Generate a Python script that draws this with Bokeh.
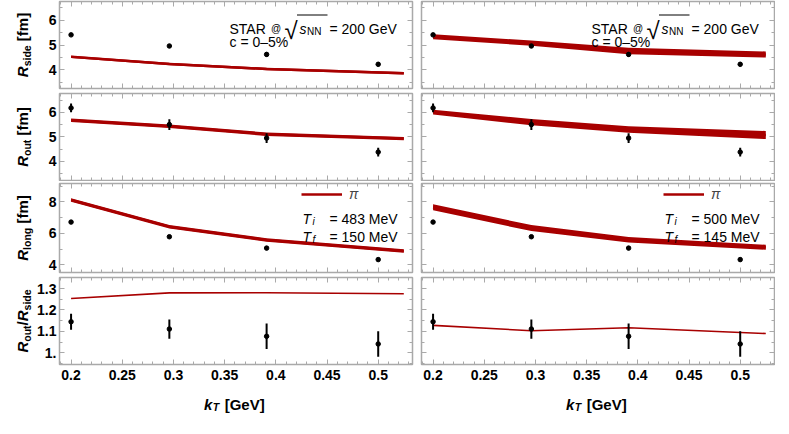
import numpy as np
from bokeh.plotting import figure
from bokeh.models import (Range1d, LinearAxis, FixedTicker, Label, Legend, LegendItem,
                          CustomJSTickFormatter)
from bokeh.layouts import gridplot, row, column
from bokeh.embed import file_html
from bokeh.resources import INLINE

# ---------------- data ----------------
kt_data = [0.2, 0.296, 0.391, 0.5]
rside_data = [5.41, 4.96, 4.62, 4.22]
rside_err = [0.04, 0.04, 0.10, 0.09]
rout_data = [6.18, 5.50, 4.95, 4.38]
rout_err = [0.18, 0.22, 0.20, 0.18]
rlong_data = [6.72, 5.79, 5.07, 4.34]
rlong_err = [0.05, 0.05, 0.14, 0.12]
ratio_data = [1.145, 1.111, 1.077, 1.041]
ratio_err = [0.038, 0.045, 0.060, 0.060]

kt_model = [0.2, 0.296, 0.391, 0.525]
# left column: Ti = 483 MeV, Tf = 150 MeV
rside_lo_a = [4.47, 4.18, 3.98, 3.81]
rside_hi_a = [4.57, 4.28, 4.08, 3.91]
rout_lo_a = [5.61, 5.36, 5.04, 4.86]
rout_hi_a = [5.75, 5.50, 5.18, 5.00]
rlong_lo_a = [8.01, 6.32, 5.47, 4.77]
rlong_hi_a = [8.23, 6.54, 5.69, 4.99]
ratio_a = [1.254, 1.280, 1.281, 1.276]
# right column: Ti = 500 MeV, Tf = 145 MeV
rside_lo_b = [5.23, 4.97, 4.63, 4.49]
rside_hi_b = [5.43, 5.18, 4.89, 4.74]
rout_lo_b = [5.91, 5.47, 5.17, 4.91]
rout_hi_b = [6.11, 5.73, 5.43, 5.24]
rlong_lo_b = [7.47, 6.15, 5.43, 4.96]
rlong_hi_b = [7.85, 6.53, 5.77, 5.28]
ratio_b = [1.128, 1.103, 1.117, 1.090]

temps_a = ["483", "150"]
temps_b = ["500", "145"]

# ticks
x_ticks = [0.2, 0.25, 0.3, 0.35, 0.4, 0.45, 0.5]
x_tick_labels = ["0.2", "0.25", "0.3", "0.35", "0.4", "0.45", "0.5"]
r_ticks = [4, 5, 6]
r_tick_labels = ["4", "5", "6"]
r_minor = [3.5, 4.5, 5.5, 6.5]
long_ticks = [4, 6, 8]
long_tick_labels = ["4", "6", "8"]
long_minor = [5, 7, 9]
ratio_ticks = [1.0, 1.1, 1.2, 1.3]
ratio_tick_labels = ["1.", "1.1", "1.2", "1.3"]
ratio_minor = [0.95, 1.05, 1.15, 1.25, 1.35]

_maj = set(round(t, 3) for t in x_ticks)
x_minor = [float(v) for v in np.round(np.arange(0.19, 0.535, 0.01), 3) if round(float(v), 3) not in _maj]

# ---------------- style / layout ----------------
RED = "#a80000"
GRAY = "#a9a9a9"
FONT = "Liberation Sans"
XR = (0.1887, 0.5335)
Y_RANGES = [(3.24, 6.76), (3.22, 6.77), (3.52, 9.17), (0.945, 1.352)]
YLAB_W = 34          # helper strip holding the rotated y titles
FW = [353, 353]
BL = [23, 5]
BR = [4, 1]
FH = [87, 87, 89, 87]
BT = [1, 3, 2, 3]
BB = [2, 1, 2, 22]
XLAB_H = 30          # helper strip holding the x titles
ROW_H = [BT[i] + FH[i] + BB[i] for i in range(4)]
GRID_H = sum(ROW_H)
TOTAL_W = YLAB_W + sum(BL) + sum(FW) + sum(BR)


def fmt(ticks, labels):
    return CustomJSTickFormatter(args=dict(tv=list(ticks), tl=list(labels)), code="""
        for (let i = 0; i < tv.length; i++) {
            if (Math.abs(tv[i] - tick) < 1e-6) { return tl[i]; }
        }
        return "";""")


def make_axis(ticks, minor, labels, show, standoff):
    ax = LinearAxis(ticker=FixedTicker(ticks=list(ticks), minor_ticks=list(minor)))
    ax.axis_line_color = None
    ax.major_tick_in = 5
    ax.major_tick_out = 0
    ax.minor_tick_in = 3
    ax.minor_tick_out = 0
    ax.major_tick_line_color = GRAY
    ax.minor_tick_line_color = GRAY
    ax.major_tick_line_width = 1
    ax.minor_tick_line_width = 1
    if show:
        ax.formatter = fmt(ticks, labels)
        ax.major_label_text_font = FONT
        ax.major_label_text_font_style = "bold"
        ax.major_label_text_font_size = "14px"
        ax.major_label_text_color = "black"
        ax.major_label_standoff = standoff
    else:
        ax.formatter = CustomJSTickFormatter(code="return '';")
        ax.major_label_text_font_size = "0px"
        ax.major_label_standoff = 0
    return ax


def add_label(p, x, y, text, size, style="normal", font=FONT, angle=0.0):
    p.add_layout(Label(x=x, y=y, text=text, text_font=font, text_font_size=f"{size}px",
                       text_font_style=style, text_color="black", angle=angle,
                       text_align="left", text_baseline="alphabetic"))


class Frame:
    def __init__(self, p, fw, fh, xr, yr):
        self.p, self.fw, self.fh, self.xr, self.yr = p, fw, fh, xr, yr

    def X(self, px):
        return self.xr[0] + px * (self.xr[1] - self.xr[0]) / self.fw

    def Y(self, py_top):
        return self.yr[1] - py_top * (self.yr[1] - self.yr[0]) / self.fh

    def label(self, px, py, text, size, style="normal", font=FONT, angle=0.0):
        add_label(self.p, self.X(px), self.Y(py), text, size, style, font, angle)


def helper(w, h):
    p = figure(frame_width=w, frame_height=h, x_range=Range1d(0, w), y_range=Range1d(0, h),
               x_axis_type=None, y_axis_type=None, output_backend="svg", toolbar_location=None,
               min_border=0)
    p.outline_line_color = None
    p.background_fill_color = "white"
    p.border_fill_color = "white"
    return Frame(p, w, h, (0, w), (0, h))


y_specs = [(r_ticks, r_minor, r_tick_labels), (r_ticks, r_minor, r_tick_labels),
           (long_ticks, long_minor, long_tick_labels), (ratio_ticks, ratio_minor, ratio_tick_labels)]

data_rows = [(rside_data, rside_err), (rout_data, rout_err), (rlong_data, rlong_err), (ratio_data, ratio_err)]
model_cols = [
    [(rside_lo_a, rside_hi_a), (rout_lo_a, rout_hi_a), (rlong_lo_a, rlong_hi_a), ratio_a],
    [(rside_lo_b, rside_hi_b), (rout_lo_b, rout_hi_b), (rlong_lo_b, rlong_hi_b), ratio_b],
]
temps = [temps_a, temps_b]

# y-title pieces: (text, size, style, is_sub, advance_px); text None = blank gap
ylabels = [
    [("R", 15, "bold italic", False, 10.8), ("side", 10.5, "bold", True, 21.0), (None, 0, "", False, 4.2),
     ("[fm]", 15, "bold", False, 28.3)],
    [("R", 15, "bold italic", False, 10.8), ("out", 10.5, "bold", True, 16.3), (None, 0, "", False, 4.2),
     ("[fm]", 15, "bold", False, 28.3)],
    [("R", 15, "bold italic", False, 10.8), ("long", 10.5, "bold", True, 22.2), (None, 0, "", False, 4.2),
     ("[fm]", 15, "bold", False, 28.3)],
    [("R", 15, "bold italic", False, 10.8), ("out", 10.5, "bold", True, 16.3), ("/", 15, "bold", False, 4.2),
     ("R", 15, "bold italic", False, 10.8), ("side", 10.5, "bold", True, 21.0)],
]

grid = []
for r in range(4):
    prow = []
    for c in range(2):
        fw, fh, yr = FW[c], FH[r], Y_RANGES[r]
        p = figure(frame_width=fw, frame_height=fh, x_range=Range1d(*XR), y_range=Range1d(*yr),
                   x_axis_type=None, y_axis_type=None, output_backend="svg", toolbar_location=None,
                   min_border_left=BL[c], min_border_right=BR[c], min_border_top=BT[r],
                   min_border_bottom=BB[r])
        p.outline_line_color = GRAY
        p.outline_line_width = 1.5
        p.background_fill_color = "white"
        p.border_fill_color = "white"
        F = Frame(p, fw, fh, XR, yr)

        yt, ym, yl = y_specs[r]
        p.add_layout(make_axis(x_ticks, x_minor, x_tick_labels, r == 3, 5), "below")
        p.add_layout(make_axis(x_ticks, x_minor, x_tick_labels, False, 0), "above")
        p.add_layout(make_axis(yt, ym, yl, c == 0, 3), "left")
        p.add_layout(make_axis(yt, ym, yl, False, 0), "right")

        # model
        m = model_cols[c][r]
        if r < 3:
            lo, hi = m
            p.varea(x=kt_model, y1=lo, y2=hi, fill_color=RED, fill_alpha=1.0)
            mid = [(a + b) / 2 for a, b in zip(lo, hi)]
            center = p.line(x=kt_model, y=mid, line_color=RED, line_width=2.5)
        else:
            center = p.line(x=kt_model, y=m, line_color=RED, line_width=1.6)

        # data
        vals, errs = data_rows[r]
        p.segment(x0=kt_data, y0=[v - e for v, e in zip(vals, errs)],
                  x1=kt_data, y1=[v + e for v, e in zip(vals, errs)],
                  line_color="black", line_width=2)
        p.scatter(x=kt_data, y=vals, size=4.5, color="black")

        # annotations
        if r == 0:
            X0 = fw - 183
            B = 27
            F.label(X0, B, "STAR", 14)
            F.label(X0 + 41.5, B, "@", 10)
            F.label(X0 + 55, B + 2, "√", 24)
            p.segment(x0=[F.X(X0 + 67.5)], y0=[F.Y(13.5)], x1=[F.X(X0 + 98)], y1=[F.Y(13.5)],
                      line_color="black", line_width=1)
            F.label(X0 + 70, B, "s", 14, style="italic")
            F.label(X0 + 77.5, B + 2.5, "NN", 10)
            F.label(X0 + 100, B, "= 200 GeV", 14)
            F.label(X0, B + 13, "c = 0–5%", 14)
        if r == 2:
            leg = Legend(items=[LegendItem(label="π", renderers=[center])],
                         location=(fw - 111, fh - 19), glyph_width=41, glyph_height=14,
                         label_height=14, label_width=8, label_standoff=7, padding=0, margin=0,
                         spacing=0, border_line_color=None, background_fill_alpha=0,
                         label_text_font=FONT, label_text_font_style="italic",
                         label_text_font_size="14px")
            p.add_layout(leg, "center")
            ti, tf = temps[c]
            F.label(fw - 110, 35, "T", 14, style="italic")
            F.label(fw - 100, 37.5, "i", 10, style="italic")
            F.label(fw - 83, 35, f"= {ti} MeV", 14)
            F.label(fw - 110, 53.5, "T", 14, style="italic")
            F.label(fw - 100, 56, "f", 10, style="italic")
            F.label(fw - 83, 53.5, f"= {tf} MeV", 14)
        prow.append(p)
    grid.append(prow)

# ---- y titles (rotated) in a strip left of the grid ----
YH = helper(YLAB_W, GRID_H)
top = 0
for r in range(4):
    center_from_top = top + BT[r] + FH[r] / 2
    top += ROW_H[r]
    pieces = ylabels[r]
    total = sum(pc[4] for pc in pieces)
    ypos = center_from_top + total / 2
    for text, size, style, sub, w in pieces:
        if text is not None:
            px = 26.5 if sub else 22
            YH.label(px, ypos, text, size, style=style, angle=np.pi / 2)
        ypos -= w

# ---- x titles in a strip below the grid ----
XH = helper(TOTAL_W, XLAB_H)
col_left = [YLAB_W + BL[0], YLAB_W + BL[0] + FW[0] + BR[0] + BL[1]]
for c in range(2):
    xs = col_left[c] + FW[c] / 2 - 30
    XH.label(xs, 17.5, "k", 15, style="bold italic")
    XH.label(xs + 8.8, 20.5, "T", 10.5, style="bold italic")
    XH.label(xs + 20.7, 17.5, "[GeV]", 15, style="bold")

g = gridplot(grid, toolbar_location=None)
layout = column(row(YH.p, g), XH.p)
open("out.html", "w").write(file_html(layout, INLINE))
